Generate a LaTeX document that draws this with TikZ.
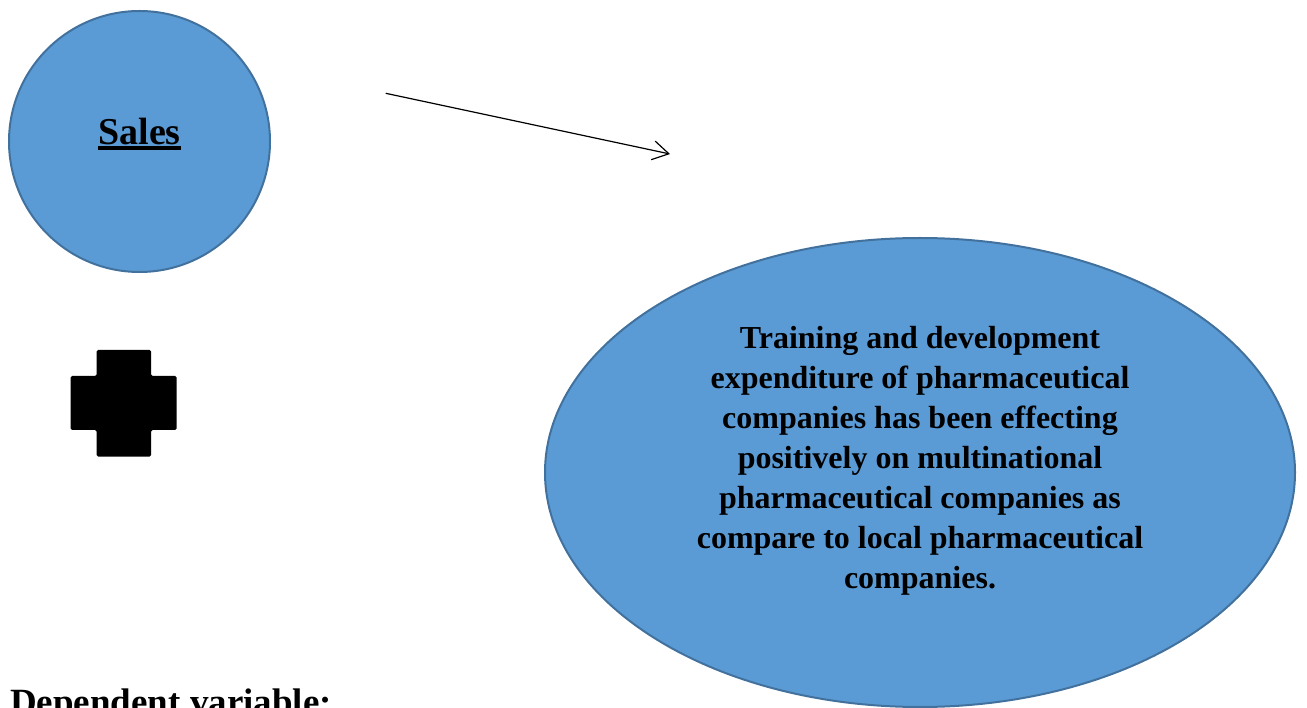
\documentclass[tikz,border=0pt]{standalone}
\usepackage{fontspec}
\setmainfont{Liberation Serif}
\usetikzlibrary{shapes.geometric,arrows.meta}

\definecolor{bubble}{HTML}{5B9BD5}
\definecolor{bubbleline}{HTML}{41719C}

\tikzset{
  bubble/.style={draw=bubbleline, line width=2pt, fill=bubble, inner sep=0pt},
}

\begin{document}
\begin{tikzpicture}[x=1pt,y=-1pt]
\useasboundingbox (0,0) rectangle (1307,708);
\clip (0,0) rectangle (1307,708);

\node[bubble, circle, minimum size=261pt] (sales) at (139.5,141.5) {};
\node[inner sep=0pt, anchor=base, font=\fontsize{38}{44}\selectfont\bfseries] (salestext) at (139.5,144.5) {Sales};
\draw[line width=3.2pt] ([yshift=-3.6pt]salestext.base west) -- ([yshift=-3.6pt]salestext.base east);

\node[bubble, ellipse, minimum width=750pt, minimum height=469pt] (train) at (920,472.5) {};
\node[align=center, font=\fontsize{32}{40}\selectfont\bfseries] (traintext) at ([yshift=12pt]train.center)
  {Training and development\\
   expenditure of pharmaceutical\\
   companies has been effecting\\
   positively on multinational\\
   pharmaceutical companies as\\
   compare to local pharmaceutical\\
   companies.};

\coordinate (from) at (385.7,93.3);
\coordinate (to) at (670,154);
\draw[line width=1.2pt, -{Straight Barb[length=16pt,width=19pt]}] (from) -- (to);

\fill[rounded corners=1.5pt] (96.7,350) -- (151,350) -- (151,376) -- (176.7,376) -- (176.7,430)
  -- (151,430) -- (151,456.7) -- (96.7,456.7) -- (96.7,430) -- (70.7,430) -- (70.7,376)
  -- (96.7,376) -- cycle;

\node[anchor=base west, inner sep=0pt, font=\fontsize{37}{44}\selectfont\bfseries] (dep) at (10,714.5) {Dependent variable:};
\end{tikzpicture}
\end{document}
